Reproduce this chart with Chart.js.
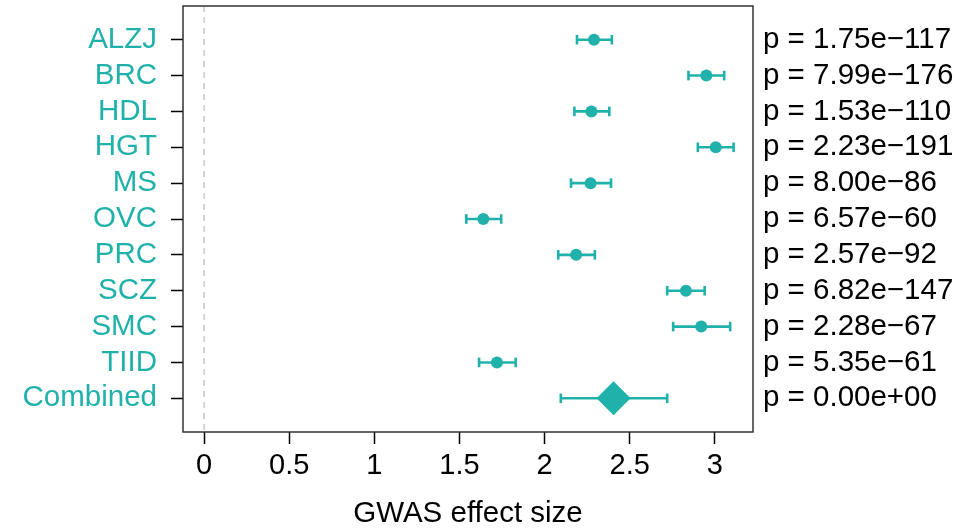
<!DOCTYPE html>
<html>
<head>
<meta charset="utf-8">
<script src="https://cdn.jsdelivr.net/npm/chart.js@4/dist/chart.umd.min.js"></script>
<style>
  html, body { margin: 0; padding: 0; background: #fff; }
  #wrap { width: 976px; height: 529px; }
</style>
</head>
<body>
<div id="wrap"><canvas id="forest"></canvas></div>
<script>
// values
const categories = ['ALZJ', 'BRC', 'HDL', 'HGT', 'MS', 'OVC', 'PRC', 'SCZ', 'SMC', 'TIID', 'Combined'];
const effect = [2.29, 2.95, 2.275, 3.005, 2.27, 1.64, 2.185, 2.83, 2.92, 1.72, 2.405];
const lower  = [2.19, 2.845, 2.175, 2.90, 2.155, 1.54, 2.08, 2.72, 2.755, 1.615, 2.095];
const upper  = [2.395, 3.055, 2.38, 3.11, 2.39, 1.745, 2.295, 2.94, 3.09, 1.83, 2.72];
const pLabels = ['p = 1.75e\u2212117', 'p = 7.99e\u2212176', 'p = 1.53e\u2212110', 'p = 2.23e\u2212191',
  'p = 8.00e\u221286', 'p = 6.57e\u221260', 'p = 2.57e\u221292', 'p = 6.82e\u2212147',
  'p = 2.28e\u221267', 'p = 5.35e\u221261', 'p = 0.00e+00'];
const xTicks = [0, 0.5, 1, 1.5, 2, 2.5, 3];

const teal = '#20B2AA';
const fontFamily = '"Liberation Sans", Arial, Helvetica, sans-serif';
const rows = categories.map((c, i) => i + 1);
const yMin = 0.06, yMax = rows.length + 0.94;

const datasets = [];

// dashed reference line at zero
datasets.push({
  data: [{ x: 0, y: yMin }, { x: 0, y: yMax }],
  showLine: true,
  borderColor: '#c8c8c8',
  borderWidth: 1.5,
  borderDash: [6, 5],
  pointRadius: 0
});

// confidence interval whiskers with end caps
rows.forEach((r, i) => {
  datasets.push({
    data: [{ x: lower[i], y: r }, { x: upper[i], y: r }],
    showLine: true,
    borderColor: teal,
    borderWidth: 2.6,
    pointStyle: 'line',
    rotation: 90,
    pointRadius: 4.8,
    pointBorderWidth: 2.6,
    pointBorderColor: teal
  });
});

// point estimates, diamond for the combined estimate
const isLast = i => i === rows.length - 1;
datasets.push({
  data: rows.map((r, i) => ({ x: effect[i], y: r })),
  backgroundColor: teal,
  borderWidth: 0,
  pointStyle: rows.map((r, i) => isLast(i) ? 'rectRot' : 'circle'),
  pointRadius: rows.map((r, i) => isLast(i) ? 17 : 6)
});

// box around the plot region
const boxPlugin = {
  id: 'box',
  afterDraw(chart) {
    const { ctx, chartArea: a } = chart;
    ctx.save();
    ctx.strokeStyle = '#333';
    ctx.lineWidth = 1.5;
    ctx.strokeRect(a.left, a.top, a.right - a.left, a.bottom - a.top);
    ctx.restore();
  }
};

const rowTicks = scale => { scale.ticks = rows.map(v => ({ value: v })); };
const noPad = s => { s.paddingTop = 0; s.paddingBottom = 0; s.paddingLeft = 0; s.paddingRight = 0; };

new Chart(document.getElementById('forest'), {
  type: 'scatter',
  data: { datasets },
  plugins: [boxPlugin],
  options: {
    responsive: true,
    maintainAspectRatio: false,
    animation: false,
    events: [],
    layout: { autoPadding: false, padding: { top: 6, left: 0, right: 0, bottom: 0 } },
    plugins: { legend: { display: false }, tooltip: { enabled: false } },
    scales: {
      x: {
        type: 'linear',
        min: -0.124,
        max: 3.224,
        afterBuildTicks: s => { s.ticks = xTicks.map(v => ({ value: v })); },
        afterFit: s => { s.height = 97; noPad(s); },
        border: { display: false },
        grid: { drawOnChartArea: false, drawTicks: true, tickLength: 12, tickColor: '#000', tickWidth: 1.5 },
        ticks: {
          color: '#000',
          padding: 5,
          maxRotation: 0,
          font: { family: fontFamily, size: 29 },
          callback: v => String(v)
        },
        title: {
          display: true,
          text: 'GWAS effect size',
          color: '#000',
          font: { family: fontFamily, size: 29.5, lineHeight: 1 },
          padding: { top: 0, bottom: 0 }
        }
      },
      y: {
        type: 'linear',
        position: 'left',
        reverse: true,
        min: yMin,
        max: yMax,
        afterBuildTicks: rowTicks,
        afterFit: s => { s.width = 183; noPad(s); },
        border: { display: false },
        grid: { drawOnChartArea: false, drawTicks: true, tickLength: 12, tickColor: '#000', tickWidth: 1.5 },
        ticks: {
          color: teal,
          padding: 14,
          font: { family: fontFamily, size: 29.5 },
          callback: v => categories[v - 1]
        }
      },
      y2: {
        type: 'linear',
        position: 'right',
        reverse: true,
        min: yMin,
        max: yMax,
        afterBuildTicks: rowTicks,
        afterFit: s => { s.width = 223; noPad(s); },
        border: { display: false },
        grid: { display: false, drawTicks: false },
        ticks: {
          color: '#000',
          padding: 10,
          font: { family: fontFamily, size: 29.5 },
          callback: v => pLabels[v - 1]
        }
      }
    }
  }
});
</script>
</body>
</html>
